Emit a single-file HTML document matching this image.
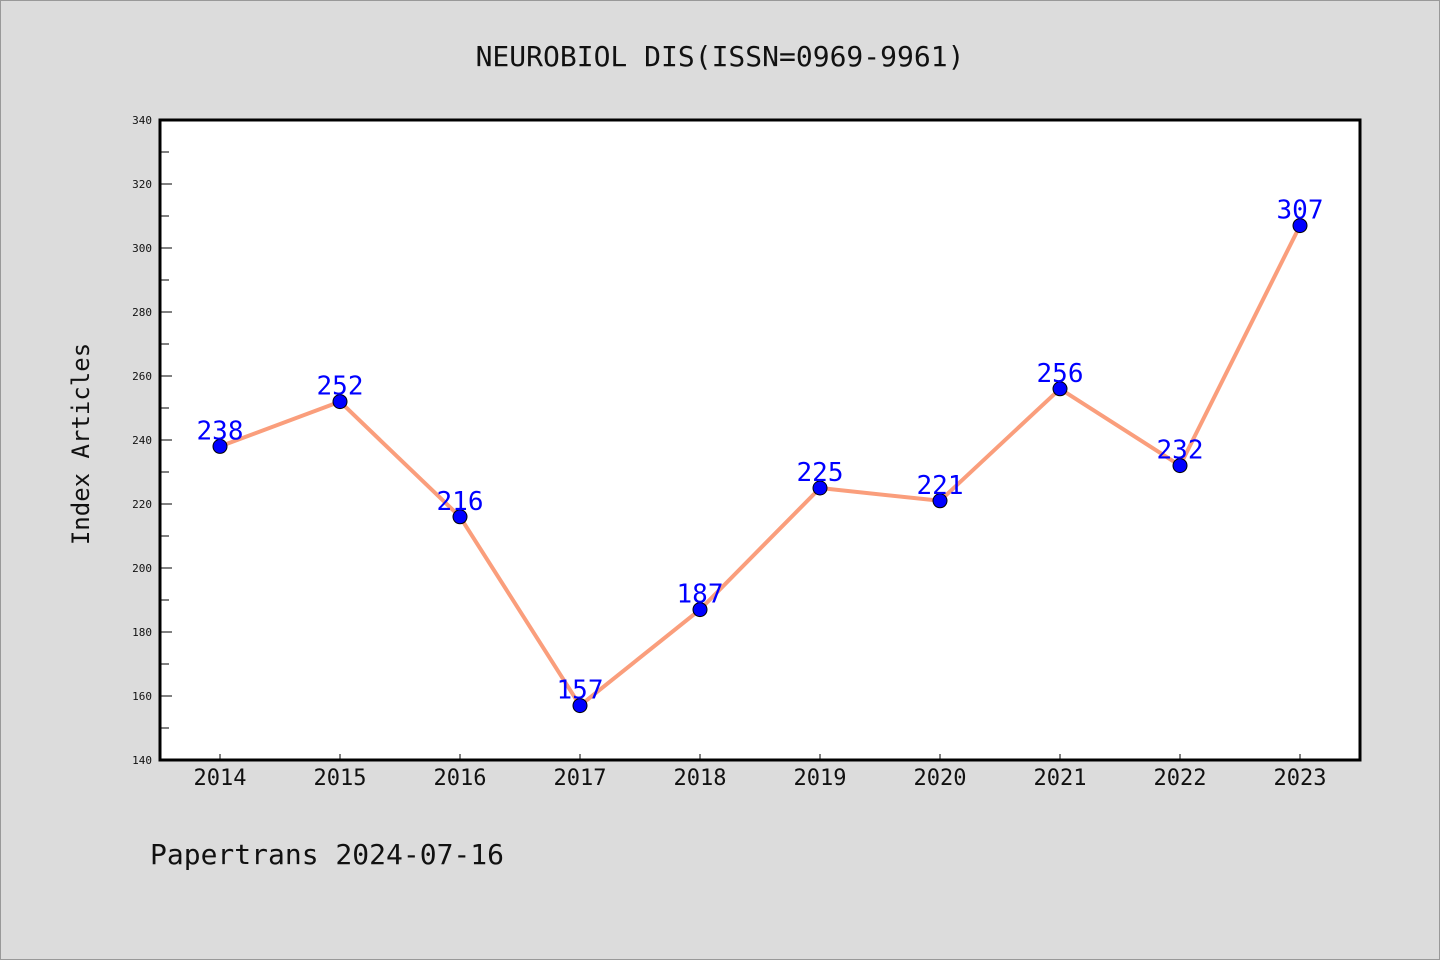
<!DOCTYPE html>
<html><head><meta charset="utf-8"><style>
body{margin:0;background:#dcdcdc;}
svg{display:block;}
text{font-family:"DejaVu Sans Mono","Liberation Mono",monospace;}
</style></head><body>
<svg id="chart" width="1440" height="960" viewBox="0 0 1440 960">
<rect x="0.5" y="0.5" width="1439" height="959" fill="#dcdcdc" stroke="#999"/>
<text x="720" y="66" text-anchor="middle" font-size="28" fill="#111">NEUROBIOL DIS(ISSN=0969-9961)</text>
<rect x="160" y="120" width="1200" height="640" fill="#fff"/>
<g id="axes"></g>
<g id="series"></g>
<rect x="160" y="120" width="1200" height="640" fill="none" stroke="#000" stroke-width="3"/>
<text transform="translate(89,444) rotate(-90)" text-anchor="middle" font-size="24" fill="#111">Index Articles</text>
<text x="150" y="864" font-size="28" fill="#111">Papertrans 2024-07-16</text>
</svg>
<script>
const years = ["2014","2015","2016","2017","2018","2019","2020","2021","2022","2023"];
const values = [238,252,216,157,187,225,221,256,232,307];
const yTicks = [140,160,180,200,220,240,260,280,300,320,340];
const NS="http://www.w3.org/2000/svg";
const yMin=140,yMax=340;
function sy(v){return 760-(v-yMin)/(yMax-yMin)*640;}
function sx(i){return 220+i*120;}
function mk(tag,attrs,parent){const e=document.createElementNS(NS,tag);for(const k in attrs)e.setAttribute(k,attrs[k]);parent.appendChild(e);return e;}
const axes=document.getElementById('axes');
yTicks.forEach(t=>{
  const l=mk('line',{x1:160,x2:172,y1:sy(t),y2:sy(t),stroke:'#000','stroke-width':1},axes);
  
  
  const tx=mk('text',{x:152,y:sy(t)+4,'text-anchor':'end','font-size':11,fill:'#111'},axes);
  tx.textContent=t;
  
  
});
for(let i=0;i<yTicks.length-1;i++){
  const m=(yTicks[i]+yTicks[i+1])/2;
  const l=mk('line',{x1:160,x2:169,y1:sy(m),y2:sy(m),stroke:'#000','stroke-width':1},axes);
  
  
}
years.forEach((y,i)=>{
  const l=mk('line',{x1:sx(i),x2:sx(i),y1:760,y2:754,stroke:'#000','stroke-width':1},axes);
  
  
  const tx=mk('text',{x:sx(i),y:785,'text-anchor':'middle','font-size':22,fill:'#111'},axes);
  tx.textContent=y;
  
  
});
const ser=document.getElementById('series');
const pl=mk('polyline',{points:values.map((v,i)=>sx(i)+','+sy(v)).join(' '),fill:'none',stroke:'#fa9e7c','stroke-width':4,'stroke-linejoin':'round'},ser);


values.forEach((v,i)=>{
  const c=mk('circle',{cx:sx(i),cy:sy(v),r:7,fill:'#0000ff',stroke:'#000','stroke-width':1},ser);
  
  
});
values.forEach((v,i)=>{
  const t=mk('text',{x:sx(i),y:sy(v)-7,'text-anchor':'middle','font-size':26,fill:'#0000ff'},ser);
  t.textContent=v;
  
  
});
</script>
</body></html>
